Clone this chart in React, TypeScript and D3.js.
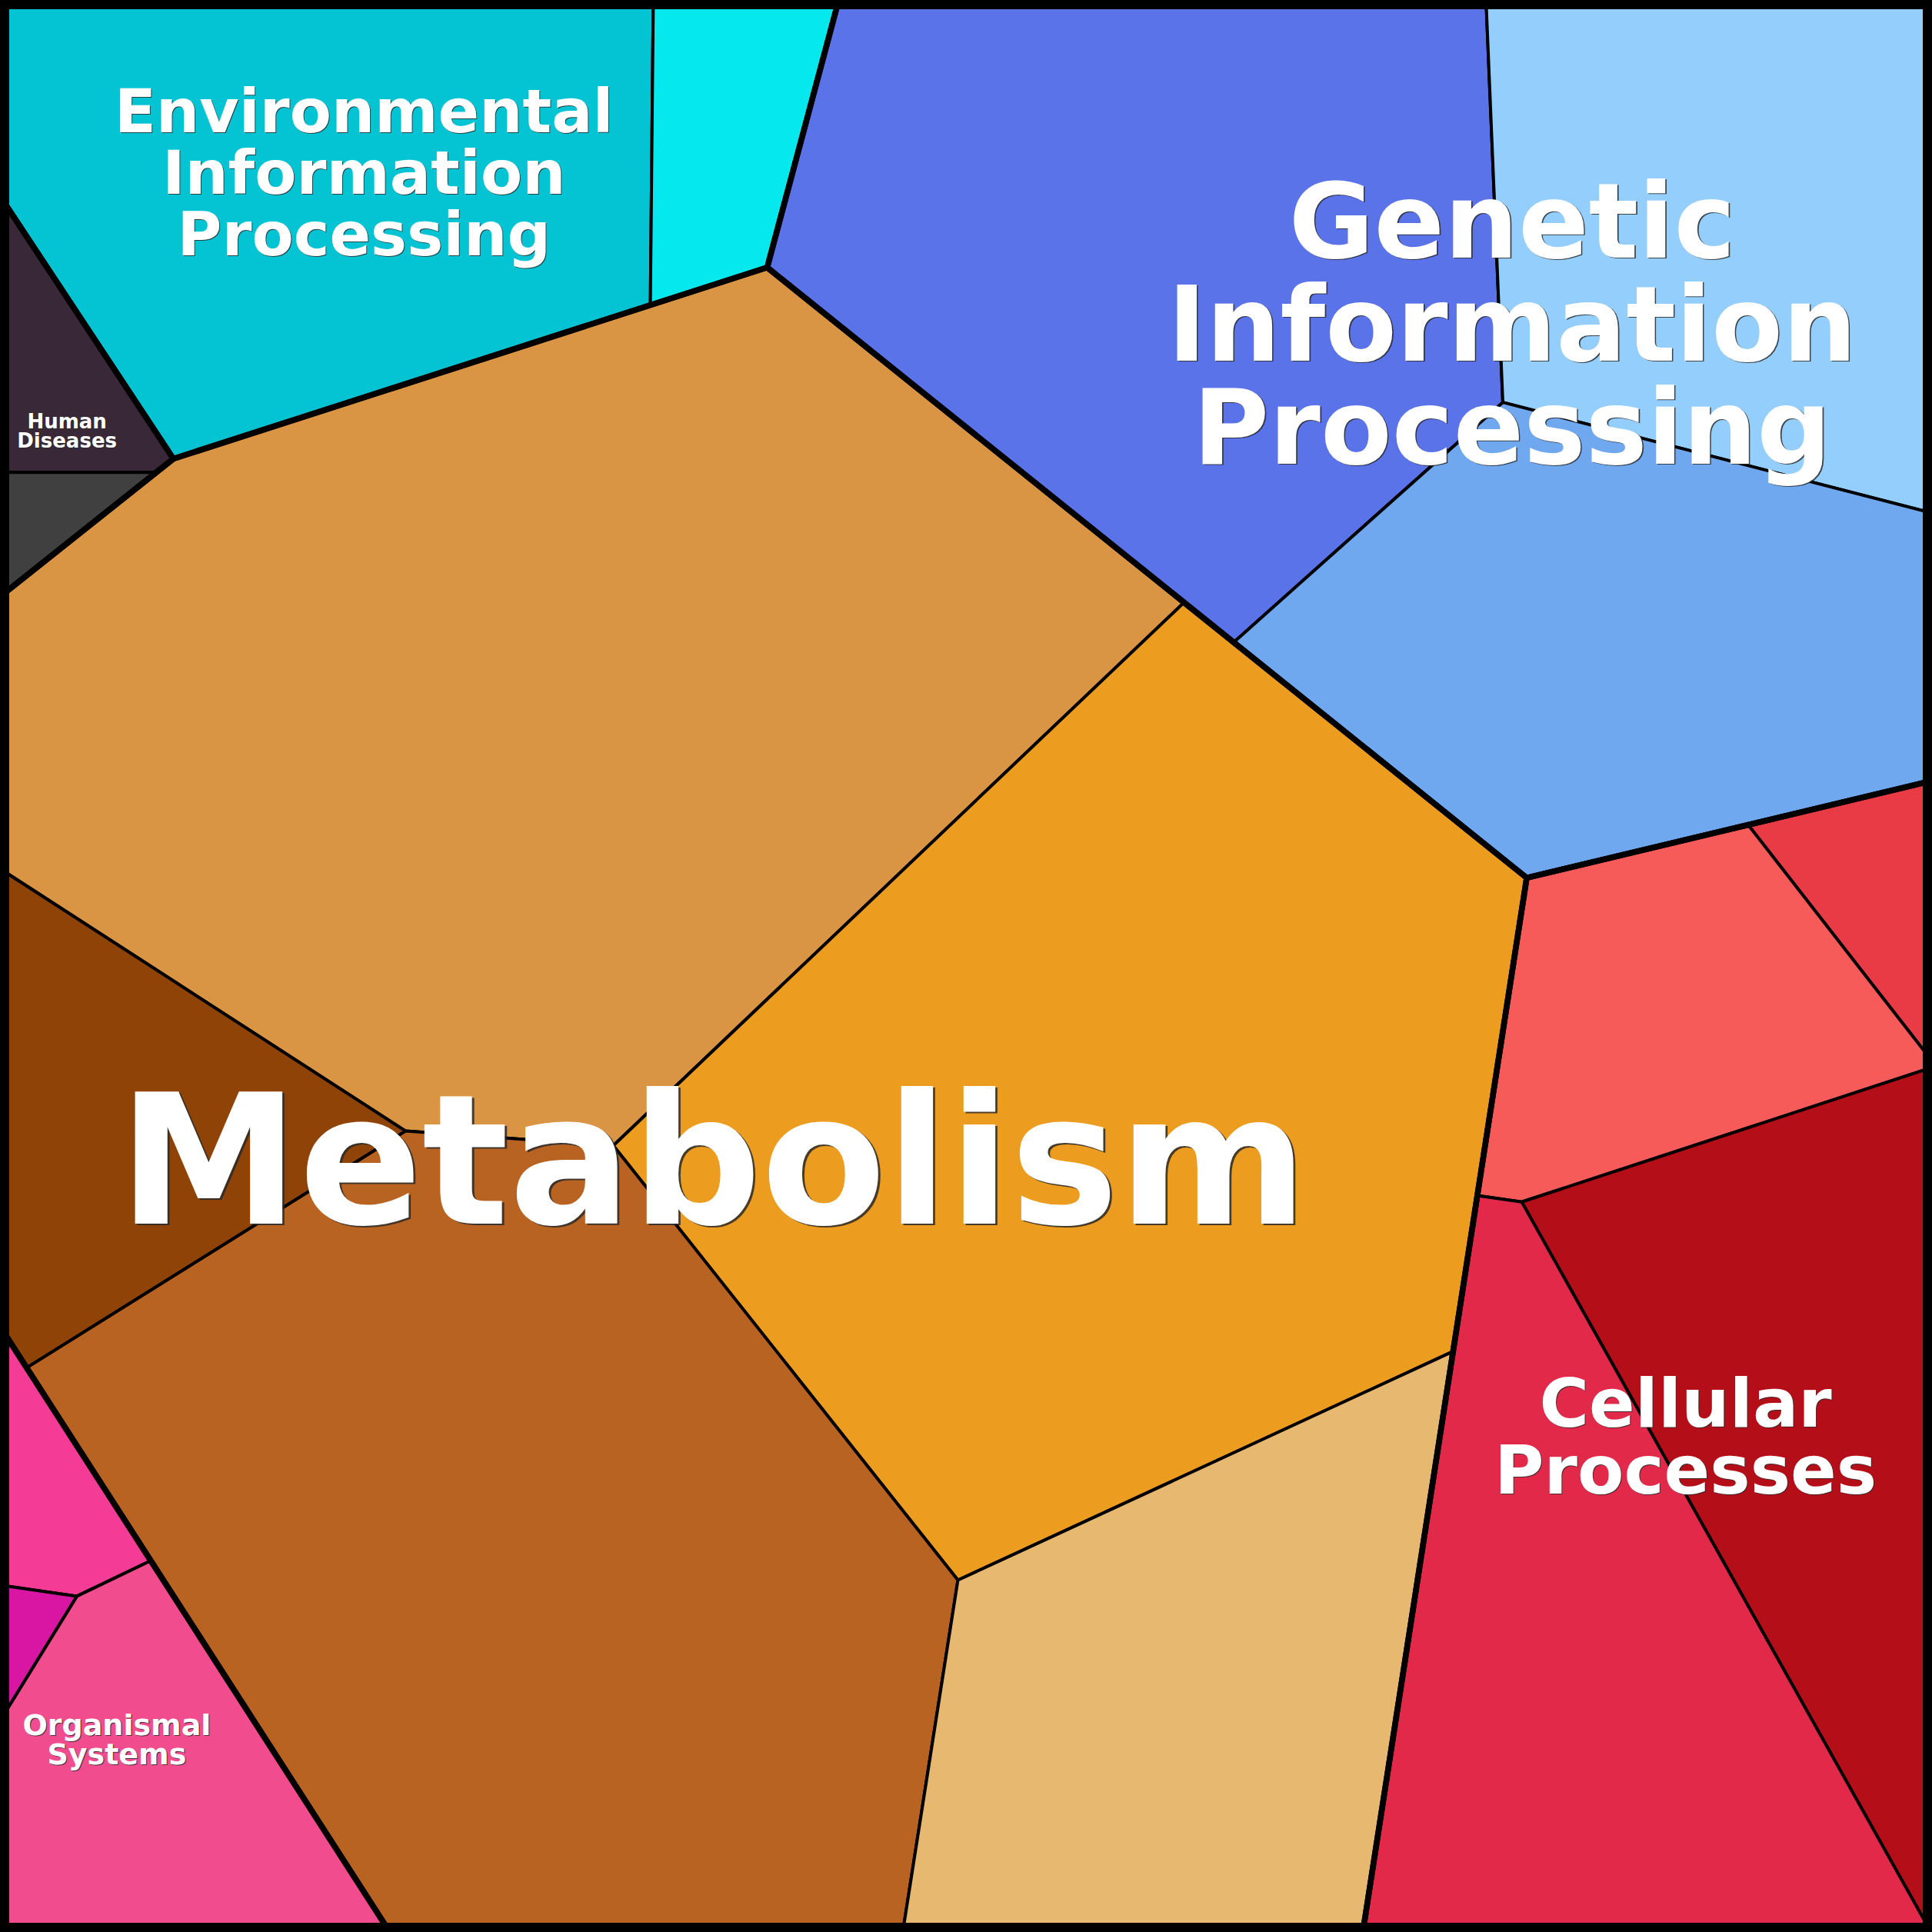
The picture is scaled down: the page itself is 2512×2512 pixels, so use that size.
import React, { useMemo } from "react";
import * as d3 from "d3";

type Pt = [number, number];

const SIZE = 2512;

// ---- data ----
const groups = [
  "Environmental Information Processing",
  "Human Diseases",
  "Genetic Information Processing",
  "Metabolism",
  "Cellular Processes",
  "Organismal Systems",
];
const groupLabelLines = [
  ["Environmental", "Information", "Processing"],
  ["Human", "Diseases"],
  ["Genetic", "Information", "Processing"],
  ["Metabolism"],
  ["Cellular", "Processes"],
  ["Organismal", "Systems"],
];

const categories = [
  "Signal transduction",
  "Membrane transport",
  "Infectious diseases",
  "Drug resistance",
  "Translation",
  "Transcription",
  "Folding, sorting and degradation",
  "Carbohydrate metabolism",
  "Energy metabolism",
  "Lipid metabolism",
  "Amino acid metabolism",
  "Nucleotide metabolism",
  "Cell motility",
  "Cellular community",
  "Cell growth and death",
  "Transport and catabolism",
  "Immune system",
  "Endocrine system",
  "Environmental adaptation",
];
const categoryGroup = [0, 0, 1, 1, 2, 2, 2, 3, 3, 3, 3, 3, 4, 4, 4, 4, 5, 5, 5];
const categoryValues = [
  6.41, 1.14, 0.67, 0.26, 9.1, 5.35, 5.94, 17.47, 14.06, 2.78, 13.59, 5.74,
  0.69, 2.83, 4.76, 6.0, 0.57, 0.14, 2.45,
];
const categoryColors = [
  "#04c4d4", "#05e8ee", "#392838", "#404040", "#5a73e8", "#93cefc", "#70a8f0",
  "#d99444", "#ec9c1f", "#8f4306", "#b86322", "#e6b870", "#e93b45", "#f65b59",
  "#b40f18", "#e3294a", "#f43c97", "#d916a3", "#f04c8e",
];

// ---- layout seeds for the power-diagram (Voronoi treemap) ----
const groupSeeds: Pt[] = [
  [547, 219], [150, 481], [1732, 536], [959, 1498], [2001, 1660], [42, 2088],
];
const categorySeeds: Pt[] = [
  [423, 245], [946, 250], [78, 494], [78, 669], [1520, 333], [2238, 303],
  [2071, 951], [707, 912], [1336, 1573], [273, 1583], [621, 2140], [1674, 2305],
  [2415, 1132], [2176, 1318], [2393, 1980], [2054, 2170], [68, 1949], [43, 2122],
  [197, 2217],
];

// ---- label styling ----
const labelSizes = [79, 26, 135, 236, 88, 38];
const labelLineHeights = [80, 25, 134, 236, 87, 38];
const labelNudges: Pt[] = [[-29, -9], [12, 18], [87, -48], [-32, 10], [-6, 31], [-17, 12]];

// ---- power diagram helpers ----
function clipHalf(pts: Pt[], labs: number[], a: number, b: number, c: number, lab: number) {
  const oP: Pt[] = [];
  const oL: number[] = [];
  const n = pts.length;
  for (let k = 0; k < n; k++) {
    const P = pts[k];
    const Q = pts[(k + 1) % n];
    const l = labs[k];
    const fP = a * P[0] + b * P[1] - c;
    const fQ = a * Q[0] + b * Q[1] - c;
    const inP = fP <= 0;
    const inQ = fQ <= 0;
    if (inP && inQ) {
      oP.push(P);
      oL.push(l);
    } else if (inP && !inQ) {
      const t = fP / (fP - fQ);
      oP.push(P);
      oL.push(l);
      oP.push([P[0] + t * (Q[0] - P[0]), P[1] + t * (Q[1] - P[1])]);
      oL.push(lab);
    } else if (!inP && inQ) {
      const t = fP / (fP - fQ);
      oP.push([P[0] + t * (Q[0] - P[0]), P[1] + t * (Q[1] - P[1])]);
      oL.push(l);
    }
  }
  return { pts: oP, labs: oL };
}

function powerDiagram(sites: Pt[], w: number[], bound: Pt[]) {
  const n = sites.length;
  const cells: { pts: Pt[]; labs: number[] }[] = [];
  for (let i = 0; i < n; i++) {
    let cell = { pts: bound.slice(), labs: bound.map(() => -1) };
    const [xi, yi] = sites[i];
    for (let j = 0; j < n; j++) {
      if (j === i || cell.pts.length < 3) continue;
      const [xj, yj] = sites[j];
      const a = 2 * (xj - xi);
      const b = 2 * (yj - yi);
      const c = xj * xj + yj * yj - xi * xi - yi * yi - w[j] + w[i];
      cell = clipHalf(cell.pts, cell.labs, a, b, c, j);
    }
    cells.push(cell);
  }
  return cells;
}

function solveLayout(sites: Pt[], values: number[], bound: Pt[]): Pt[][] {
  const n = sites.length;
  if (n === 1) return [bound];
  const total = Math.abs(d3.polygonArea(bound));
  const vs = d3.sum(values);
  const target = values.map((v) => (v / vs) * total);
  let w = new Array(n).fill(0);
  const d2 = (i: number, j: number) =>
    (sites[i][0] - sites[j][0]) ** 2 + (sites[i][1] - sites[j][1]) ** 2;
  for (let it = 0; it < 600; it++) {
    const cells = powerDiagram(sites, w, bound);
    const nw = w.slice();
    for (let i = 0; i < n; i++) {
      const c = cells[i];
      const area = c.pts.length >= 3 ? Math.abs(d3.polygonArea(c.pts)) : 0;
      if (area < 1e-6) {
        let m = -Infinity;
        for (let j = 0; j < n; j++) if (j !== i) m = Math.max(m, w[j] - d2(i, j));
        nw[i] = m + 100;
        continue;
      }
      let D = 0;
      const m = c.pts.length;
      for (let k = 0; k < m; k++) {
        const j = c.labs[k];
        if (j < 0) continue;
        const P = c.pts[k];
        const Q = c.pts[(k + 1) % m];
        const len = Math.hypot(Q[0] - P[0], Q[1] - P[1]);
        D += len / (2 * Math.sqrt(d2(i, j)));
      }
      if (D > 0) nw[i] = w[i] + (0.5 * (target[i] - area)) / D;
    }
    w = nw;
  }
  return powerDiagram(sites, w, bound).map((c) => c.pts);
}

const pathOf = (pts: Pt[]) => "M" + pts.map((p) => p[0].toFixed(2) + "," + p[1].toFixed(2)).join("L") + "Z";

export default function App() {
  const layout = useMemo(() => {
    const bound: Pt[] = [[0, 0], [SIZE, 0], [SIZE, SIZE], [0, SIZE]];
    const groupValues = groups.map((_, g) =>
      d3.sum(categoryValues.filter((_, i) => categoryGroup[i] === g))
    );
    const groupPolys = solveLayout(groupSeeds, groupValues, bound);
    const catPolys: Pt[][] = new Array(categories.length);
    groups.forEach((_, g) => {
      const idx = categories.map((_, i) => i).filter((i) => categoryGroup[i] === g);
      const polys = solveLayout(
        idx.map((i) => categorySeeds[i]),
        idx.map((i) => categoryValues[i]),
        groupPolys[g]
      );
      idx.forEach((i, k) => (catPolys[i] = polys[k]));
    });
    return { groupPolys, catPolys };
  }, []);

  return (
    <svg
      width={SIZE}
      height={SIZE}
      viewBox={`0 0 ${SIZE} ${SIZE}`}
      style={{ position: "absolute", left: 0, top: 0, display: "block", background: "#fff" }}
    >
      <g>
        {layout.catPolys.map((p, i) => (
          <path
            key={"c" + i}
            d={pathOf(p)}
            fill={categoryColors[i]}
            stroke="#000"
            strokeWidth={4}
            strokeLinejoin="round"
          />
        ))}
      </g>
      <g>
        {layout.groupPolys.map((p, g) => (
          <path
            key={"g" + g}
            d={pathOf(p)}
            fill="none"
            stroke="#000"
            strokeWidth={7.5}
            strokeLinejoin="round"
          />
        ))}
      </g>
      <g fontFamily="'DejaVu Sans', sans-serif" fontWeight="bold" textAnchor="middle">
        {layout.groupPolys.map((p, g) => {
          const c = d3.polygonCentroid(p as any);
          const fs = labelSizes[g];
          const lh = labelLineHeights[g];
          const lines = groupLabelLines[g];
          const cx = c[0] + labelNudges[g][0];
          const cy = c[1] + labelNudges[g][1];
          const off = Math.max(1, fs * 0.012);
          return (
            <g key={"l" + g} fontSize={fs}>
              {lines.map((t, k) => {
                const y = cy + (k - (lines.length - 1) / 2) * lh + 0.35 * fs;
                return (
                  <g key={k}>
                    <text x={cx + off} y={y + off} fill="#2a2a2a" fillOpacity={0.85}>
                      {t}
                    </text>
                    <text x={cx} y={y} fill="#ffffff">
                      {t}
                    </text>
                  </g>
                );
              })}
            </g>
          );
        })}
      </g>
      <rect x={6} y={6} width={SIZE - 12} height={SIZE - 12} fill="none" stroke="#000" strokeWidth={12} />
    </svg>
  );
}
